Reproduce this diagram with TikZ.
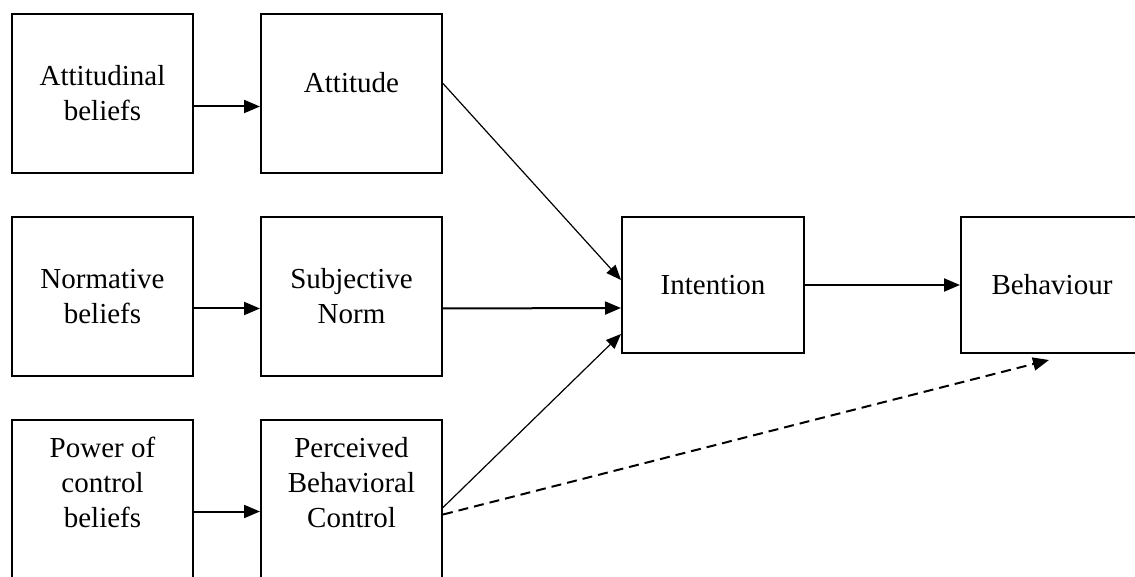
\documentclass[tikz,border=0pt]{standalone}
\usepackage{fontspec}
\setmainfont{Liberation Serif}
\usetikzlibrary{arrows.meta, positioning}

\begin{document}
\begin{tikzpicture}[
  x=1pt, y=1pt,
  node distance=42pt and 66pt,
  box/.style={draw, line width=2pt, align=center, inner sep=0pt,
    minimum width=181pt, minimum height=159pt,
    font=\fontsize{29}{35}\selectfont},
  smallbox/.style={box, minimum width=182pt, minimum height=136pt},
  arr/.style={line width=2pt, -{Triangle[length=16pt, width=13pt]}},
  thinarr/.style={line width=1.2pt, -{Triangle[length=15pt, width=12pt]}}
]
\clip (0,0) rectangle (1135,-577);
\node[box, anchor=north west] (ab) at (11,-13) {Attitudinal\\beliefs};
\node[box, text height=20pt, text depth=22pt] (att) [right=of ab] {Attitude};
\node[box] (nb) [below=of ab] {Normative\\beliefs};
\node[box] (sn) [right=of nb] {Subjective\\Norm};
\node[box] (pc) [below=of nb] {Power of\\control\\beliefs\\ \mbox{}};
\node[box] (pbc) [right=of pc] {Perceived\\Behavioral\\Control\\ \mbox{}};
\node[smallbox] (int) [right=178pt of sn.north east, anchor=north west] {Intention};
\node[smallbox] (beh) [right=155pt of int] {Behaviour};

\draw[arr] ([yshift=-13pt]ab.east) -- ([yshift=-13pt]att.west);
\draw[arr] ([yshift=-12pt]nb.east) -- ([yshift=-12pt]sn.west);
\draw[arr] ([yshift=-12pt]pc.east) -- ([yshift=-12pt]pbc.west);
\draw[thinarr] ([yshift=10pt]att.east) -- ([yshift=5pt]int.west);
\draw[arr] ([yshift=-12pt]sn.east) -- ([yshift=-23pt]int.west);
\draw[thinarr] ([yshift=-8pt]pbc.east) -- ([yshift=20pt]int.south west);
\draw[arr] (int.east) -- (beh.west);
\draw[arr, dashed, dash pattern=on 10pt off 6pt]
  ([yshift=-15pt]pbc.east) -- ([shift={(-3pt,-6pt)}]beh.south);
\end{tikzpicture}
\end{document}
